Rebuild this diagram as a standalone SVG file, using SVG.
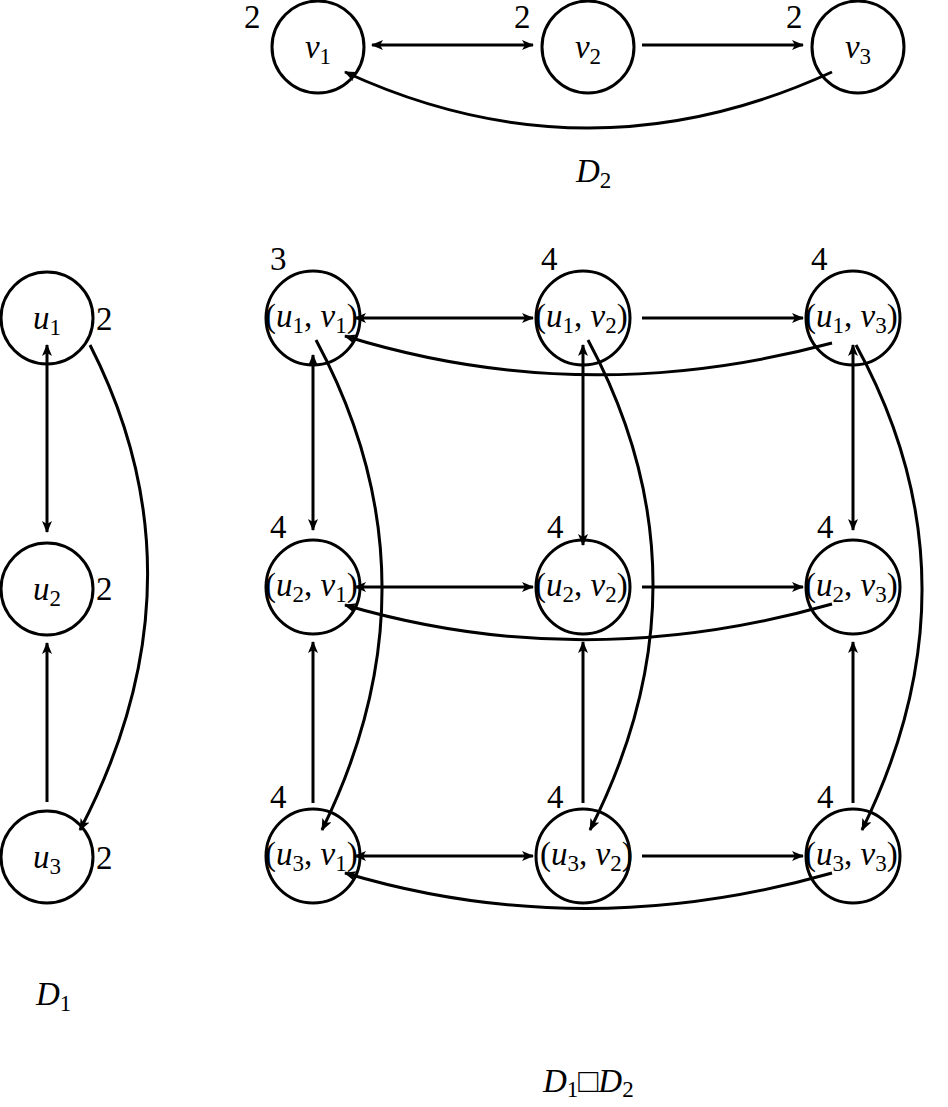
<svg xmlns="http://www.w3.org/2000/svg" width="948" height="1107" viewBox="0 0 948 1107">
<style>
circle{fill:none;stroke:#000;stroke-width:3}
.e{fill:none;stroke:#000;stroke-width:3}
text{font-family:"Liberation Serif","DejaVu Serif",serif;font-size:33px;fill:#000}
.m{font-style:italic}
.s{font-size:23px;font-style:normal}
.n{text-anchor:middle}
</style>
<defs>
<marker id="a" viewBox="0 0 12 10" refX="11" refY="5" markerWidth="12" markerHeight="10" markerUnits="userSpaceOnUse" orient="auto-start-reverse">
<path d="M0,0 L12,5 L0,10 L3,5 z" fill="#000"/>
</marker>
</defs>
<g id="connectors">
<path class="e" d="M372,45 L533,45" marker-start="url(#a)" marker-end="url(#a)"/>
<path class="e" d="M642,45 L803,45" marker-end="url(#a)"/>
<path class="e" d="M832,72 Q588,184 345,72" marker-end="url(#a)"/>
<path class="e" d="M47,345 L47,532" marker-start="url(#a)" marker-end="url(#a)"/>
<path class="e" d="M47,802 L47,643" marker-end="url(#a)"/>
<path class="e" d="M90,345 Q210,580 80,830" marker-end="url(#a)"/>
<g>
<path class="e" d="M355,318 L533,318" marker-start="url(#a)" marker-end="url(#a)"/>
<path class="e" d="M642,318 L803,318" marker-end="url(#a)"/>
<path class="e" d="M832,343 Q583,410 345,336" marker-end="url(#a)"/>
<path class="e" d="M355,587 L533,587" marker-start="url(#a)" marker-end="url(#a)"/>
<path class="e" d="M642,587 L803,587" marker-end="url(#a)"/>
<path class="e" d="M832,604 Q583,675 345,605" marker-end="url(#a)"/>
<path class="e" d="M355,856 L533,856" marker-start="url(#a)" marker-end="url(#a)"/>
<path class="e" d="M642,856 L803,856" marker-end="url(#a)"/>
<path class="e" d="M832,873 Q583,944 345,873" marker-end="url(#a)"/>
<path class="e" d="M313,355 L313,530" marker-start="url(#a)" marker-end="url(#a)"/>
<path class="e" d="M313,803 L313,642" marker-end="url(#a)"/>
<path class="e" d="M316,340 Q445,580 322,830" marker-end="url(#a)"/>
<path class="e" d="M583,345 L583,545" marker-start="url(#a)" marker-end="url(#a)"/>
<path class="e" d="M583,803 L583,642" marker-end="url(#a)"/>
<path class="e" d="M588,340 Q717,580 590,830" marker-end="url(#a)"/>
<path class="e" d="M853,345 L853,530" marker-start="url(#a)" marker-end="url(#a)"/>
<path class="e" d="M853,803 L853,642" marker-end="url(#a)"/>
<path class="e" d="M856,345 Q985,580 862,830" marker-end="url(#a)"/>
</g>
</g>
<g id="v1"><circle cx="318" cy="47" r="46"/><text class="m n" x="318" y="58">v<tspan class="s" dy="6">1</tspan></text><text x="244" y="28">2</text></g>
<g id="v2"><circle cx="588" cy="47" r="46"/><text class="m n" x="588" y="58">v<tspan class="s" dy="6">2</tspan></text><text x="514" y="28">2</text></g>
<g id="v3"><circle cx="858" cy="47" r="46"/><text class="m n" x="858" y="58">v<tspan class="s" dy="6">3</tspan></text><text x="786" y="28">2</text></g>
<text class="m" x="576" y="182">D<tspan class="s" dy="6">2</tspan></text>
<g id="u1"><circle cx="47" cy="318" r="46"/><text class="m n" x="47" y="329">u<tspan class="s" dy="6">1</tspan></text><text x="96" y="330">2</text></g>
<g id="u2"><circle cx="47" cy="589" r="46"/><text class="m n" x="47" y="600">u<tspan class="s" dy="6">2</tspan></text><text x="96" y="600">2</text></g>
<g id="u3"><circle cx="47" cy="857" r="46"/><text class="m n" x="47" y="868">u<tspan class="s" dy="6">3</tspan></text><text x="96" y="869">2</text></g>
<text class="m" x="36" y="1005">D<tspan class="s" dy="6">1</tspan></text>
<g id="n11"><circle cx="313" cy="318" r="47"/><text x="265" y="327">(<tspan class="m">u</tspan><tspan class="s" dy="6">1</tspan><tspan dy="-6">, </tspan><tspan class="m">v</tspan><tspan class="s" dy="6">1</tspan><tspan dy="-6">)</tspan></text><text x="270" y="270">3</text></g>
<g id="n12"><circle cx="583" cy="318" r="47"/><text x="535" y="327">(<tspan class="m">u</tspan><tspan class="s" dy="6">1</tspan><tspan dy="-6">, </tspan><tspan class="m">v</tspan><tspan class="s" dy="6">2</tspan><tspan dy="-6">)</tspan></text><text x="541" y="270">4</text></g>
<g id="n13"><circle cx="853" cy="318" r="47"/><text x="805" y="327">(<tspan class="m">u</tspan><tspan class="s" dy="6">1</tspan><tspan dy="-6">, </tspan><tspan class="m">v</tspan><tspan class="s" dy="6">3</tspan><tspan dy="-6">)</tspan></text><text x="811" y="270">4</text></g>
<g id="n21"><circle cx="313" cy="587" r="47"/><text x="265" y="596">(<tspan class="m">u</tspan><tspan class="s" dy="6">2</tspan><tspan dy="-6">, </tspan><tspan class="m">v</tspan><tspan class="s" dy="6">1</tspan><tspan dy="-6">)</tspan></text><text x="270" y="538">4</text></g>
<g id="n22"><circle cx="583" cy="587" r="47"/><text x="535" y="596">(<tspan class="m">u</tspan><tspan class="s" dy="6">2</tspan><tspan dy="-6">, </tspan><tspan class="m">v</tspan><tspan class="s" dy="6">2</tspan><tspan dy="-6">)</tspan></text><text x="547" y="538">4</text></g>
<g id="n23"><circle cx="853" cy="587" r="47"/><text x="805" y="596">(<tspan class="m">u</tspan><tspan class="s" dy="6">2</tspan><tspan dy="-6">, </tspan><tspan class="m">v</tspan><tspan class="s" dy="6">3</tspan><tspan dy="-6">)</tspan></text><text x="817" y="538">4</text></g>
<g id="n31"><circle cx="313" cy="856" r="47"/><text x="265" y="865">(<tspan class="m">u</tspan><tspan class="s" dy="6">3</tspan><tspan dy="-6">, </tspan><tspan class="m">v</tspan><tspan class="s" dy="6">1</tspan><tspan dy="-6">)</tspan></text><text x="270" y="808">4</text></g>
<g id="n32"><circle cx="583" cy="856" r="47"/><text x="540" y="865">(<tspan class="m">u</tspan><tspan class="s" dy="6">3</tspan><tspan dy="-6">, </tspan><tspan class="m">v</tspan><tspan class="s" dy="6">2</tspan><tspan dy="-6">)</tspan></text><text x="547" y="808">4</text></g>
<g id="n33"><circle cx="853" cy="856" r="47"/><text x="805" y="865">(<tspan class="m">u</tspan><tspan class="s" dy="6">3</tspan><tspan dy="-6">, </tspan><tspan class="m">v</tspan><tspan class="s" dy="6">3</tspan><tspan dy="-6">)</tspan></text><text x="817" y="808">4</text></g>
<text class="m" x="543" y="1092">D<tspan class="s" dy="5">1</tspan><tspan dy="-5" style="font-style:normal">□</tspan>D<tspan class="s" dy="5">2</tspan></text>
</svg>
